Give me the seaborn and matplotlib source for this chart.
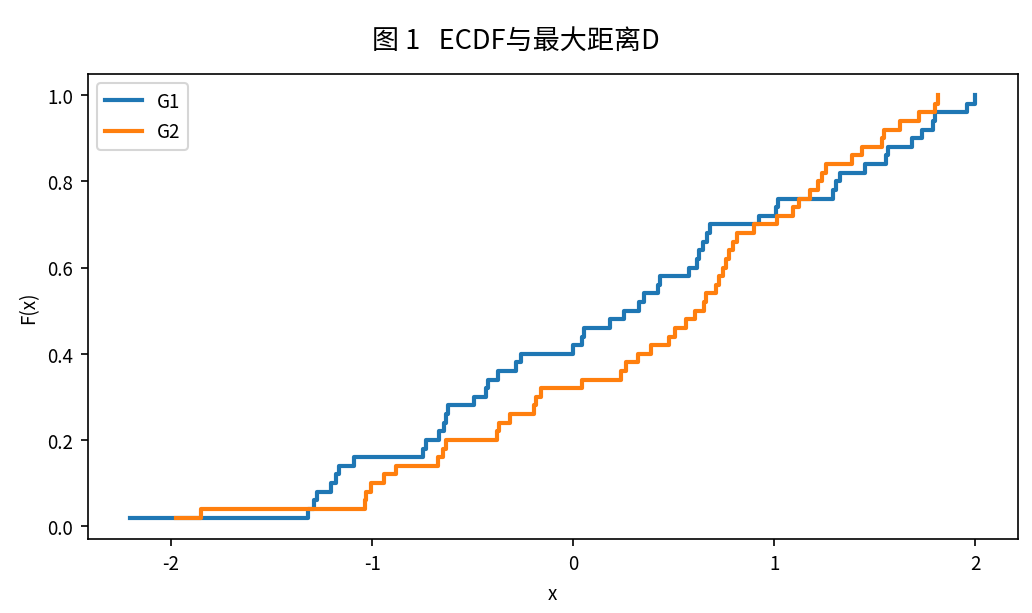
import matplotlib
matplotlib.use("Agg")
import matplotlib.pyplot as plt
import seaborn as sns
import numpy as np
import pandas as pd

g1_x = [-2.204, -1.319, -1.289, -1.275, -1.205, -1.180, -1.165, -1.091, -0.748, -0.733,
        -0.668, -0.643, -0.634, -0.624, -0.494, -0.435, -0.425, -0.375, -0.286, -0.261,
        -0.002, 0.042, 0.052, 0.181, 0.251, 0.330, 0.350, 0.420, 0.430, 0.574,
        0.614, 0.624, 0.648, 0.668, 0.683, 0.922, 1.011, 1.021, 1.294, 1.309,
        1.329, 1.453, 1.558, 1.568, 1.687, 1.737, 1.791, 1.801, 1.960, 2.000]
g2_x = [-1.975, -1.851, -1.036, -1.031, -1.006, -0.942, -0.882, -0.673, -0.648, -0.634,
        -0.380, -0.370, -0.316, -0.196, -0.186, -0.161, 0.042, 0.236, 0.261, 0.325,
        0.385, 0.475, 0.509, 0.559, 0.604, 0.653, 0.663, 0.708, 0.723, 0.743,
        0.758, 0.773, 0.793, 0.817, 0.897, 1.016, 1.091, 1.121, 1.180, 1.220,
        1.240, 1.260, 1.389, 1.439, 1.538, 1.548, 1.627, 1.722, 1.801, 1.816]
groups = ["G1", "G2"]

plt.rcParams['font.family'] = ['Noto Sans CJK SC', 'DejaVu Sans']
fig, ax = plt.subplots(figsize=(6.88, 4.093), dpi=150)
colors = ["#1f77b4", "#ff7f0e"]
for name, xs, c in zip(groups, [g1_x, g2_x], colors):
    xs = np.sort(xs)
    ys = np.arange(1, len(xs) + 1) / len(xs)
    sns.lineplot(x=xs, y=ys, drawstyle="steps-post", estimator=None, sort=False,
                 color=c, linewidth=2, label=name, ax=ax)
ax.set_xlabel("x", fontsize=9)
ax.set_ylabel("F(x)", fontsize=9)
ax.tick_params(labelsize=9)
ax.set_xticks([-2, -1, 0, 1, 2])
ax.set_xticklabels(["-2", "-1", "0", "1", "2"])
ax.legend(loc="upper left", fontsize=9)
fig.suptitle("图 1   ECDF与最大距离D", fontsize=13, y=0.955)
fig.subplots_adjust(left=0.085, right=0.986, top=0.878, bottom=0.121)
fig.savefig("out.png", dpi=150)
